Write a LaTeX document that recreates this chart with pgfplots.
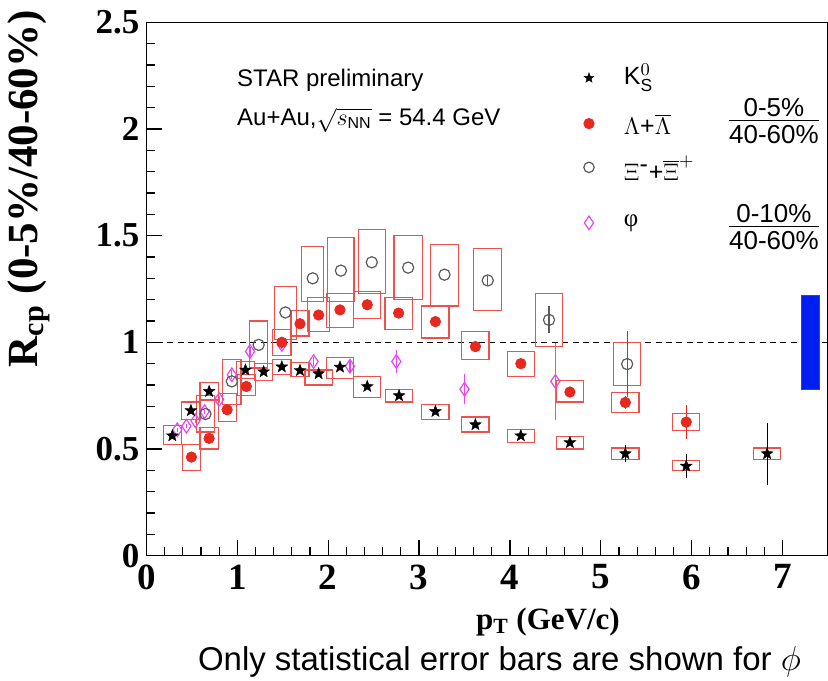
\documentclass[border=0pt]{standalone}
\usepackage{pgfplots}
\usepackage{pgfplotstable}
\pgfplotsset{compat=1.18}
\usetikzlibrary{calc}
\usepackage{fontspec}
\setmainfont{Liberation Sans}
\newfontfamily\tnr{Liberation Serif}

\definecolor{boxred}{RGB}{240,80,75}
\definecolor{dotred}{RGB}{230,40,30}
\definecolor{phicol}{RGB}{230,70,240}
\definecolor{xigray}{RGB}{90,90,90}
\definecolor{sysblue}{RGB}{0,30,240}

\pgfdeclareplotmark{fstar}{%
 \pgfpathmoveto{\pgfpointpolar{90}{\pgfplotmarksize}}%
 \pgfpathlineto{\pgfpointpolar{126}{0.42\pgfplotmarksize}}%
 \pgfpathlineto{\pgfpointpolar{162}{\pgfplotmarksize}}%
 \pgfpathlineto{\pgfpointpolar{198}{0.42\pgfplotmarksize}}%
 \pgfpathlineto{\pgfpointpolar{234}{\pgfplotmarksize}}%
 \pgfpathlineto{\pgfpointpolar{270}{0.42\pgfplotmarksize}}%
 \pgfpathlineto{\pgfpointpolar{306}{\pgfplotmarksize}}%
 \pgfpathlineto{\pgfpointpolar{342}{0.42\pgfplotmarksize}}%
 \pgfpathlineto{\pgfpointpolar{18}{\pgfplotmarksize}}%
 \pgfpathlineto{\pgfpointpolar{54}{0.42\pgfplotmarksize}}%
 \pgfpathclose
 \pgfusepathqfillstroke
}

\newcommand{\frc}[2]{{\def\arraystretch{0}\begin{tabular}{@{}c@{}}\rule[-1.8pt]{0pt}{0pt}#1\\\hline\rule{0pt}{11pt}#2\end{tabular}}}

% K0S: x y stat-error
\pgfplotstableread{
x y ey
0.285 0.562 0
0.49 0.68 0
0.69 0.77 0
1.09 0.87 0
1.29 0.862 0
1.49 0.885 0
1.69 0.868 0
1.895 0.853 0
2.13 0.884 0
2.43 0.793 0
2.78 0.75 0
3.18 0.676 0
3.62 0.614 0
4.12 0.562 0
4.66 0.53 0
5.27 0.478 0.04
5.94 0.42 0.055
6.83 0.478 0.145
}\kzero

% Lambda
\pgfplotstableread{
x y ey
0.495 0.462 0
0.69 0.55 0
0.888 0.684 0
1.10 0.793 0
1.49 1.00 0
1.69 1.087 0
1.895 1.128 0
2.13 1.152 0
2.43 1.176 0
2.775 1.137 0
3.18 1.097 0
3.62 0.98 0
4.12 0.90 0
4.66 0.767 0
5.27 0.718 0.03
5.94 0.626 0.08
}\lam

% Xi
\pgfplotstableread{
x y ey
0.65 0.664 0
0.94 0.817 0
1.235 0.988 0
1.53 1.14 0
1.83 1.30 0
2.14 1.336 0
2.48 1.375 0
2.88 1.35 0
3.28 1.317 0
3.756 1.29 0.02
4.43 1.105 0.063
5.29 0.898 0.155
}\xi

% phi
\pgfplotstableread{
x y ey
0.34 0.59 0.01
0.44 0.607 0.01
0.54 0.632 0.01
0.64 0.675 0.01
0.80 0.732 0.015
0.94 0.848 0.02
1.14 0.957 0.02
1.49 0.99 0.02
1.84 0.91 0.02
2.24 0.888 0.025
2.75 0.91 0.056
3.50 0.78 0.07
4.50 0.817 0.18
}\phitab

\begin{document}
\begin{tikzpicture}
\begin{axis}[name=ax, scale only axis, width=341pt, height=266.85pt,
  xmin=0, xmax=7.5, ymin=0, ymax=2.5,
  xtick={0,1,...,7}, ytick={0,0.5,...,2.5},
  minor x tick num=4, minor y tick num=4,
  tick align=inside, xtick pos=left, ytick pos=left,
  major tick length=8pt, minor tick length=4.5pt,
  axis line style={line width=0.7pt},
  every tick/.style={black, line width=0.6pt},
  /pgf/number format/assume math mode=true,
  xticklabel style={font=\tnr\bfseries\fontsize{18.5}{18.5}\selectfont, yshift=-1pt},
  yticklabel style={font=\tnr\bfseries\fontsize{17.5}{17.5}\selectfont},
  xlabel={p\textsubscript{T} (GeV/c)},
  xlabel style={font=\tnr\bfseries\fontsize{15.5}{15.5}\selectfont, at={(axis description cs:0.589,-0.124)}, anchor=center},
  ylabel={R\textsubscript{cp} (0-5\%/40-60\%)},
  ylabel style={font=\tnr\bfseries\fontsize{21.5}{21.5}\selectfont, at={(axis description cs:-0.172,0.688)}, anchor=center},
  clip=false,
  error bars/error mark=none,
  sb/.style={boxred, line width=0.6pt, forget plot},
]

% dashed unity line
\addplot[black, line width=0.6pt, dash pattern=on 3pt off 2.2pt, forget plot] coordinates {(0,1)(7.5,1)};

% systematic boxes: K0S
\addplot[sb] coordinates {(0.185,0.52)(0.385,0.52)(0.385,0.61)(0.185,0.61)} --cycle;
\addplot[sb] coordinates {(0.39,0.64)(0.59,0.64)(0.59,0.72)(0.39,0.72)} --cycle;
\addplot[sb] coordinates {(0.59,0.73)(0.79,0.73)(0.79,0.81)(0.59,0.81)} --cycle;
\addplot[sb] coordinates {(0.99,0.83)(1.19,0.83)(1.19,0.91)(0.99,0.91)} --cycle;
\addplot[sb] coordinates {(1.19,0.82)(1.39,0.82)(1.39,0.90)(1.19,0.90)} --cycle;
\addplot[sb] coordinates {(1.39,0.85)(1.59,0.85)(1.59,0.92)(1.39,0.92)} --cycle;
\addplot[sb] coordinates {(1.59,0.84)(1.79,0.84)(1.79,0.905)(1.59,0.905)} --cycle;
\addplot[sb] coordinates {(1.745,0.80)(2.045,0.80)(2.045,0.87)(1.745,0.87)} --cycle;
\addplot[sb] coordinates {(1.98,0.83)(2.28,0.83)(2.28,0.93)(1.98,0.93)} --cycle;
\addplot[sb] coordinates {(2.28,0.74)(2.58,0.74)(2.58,0.84)(2.28,0.84)} --cycle;
\addplot[sb] coordinates {(2.63,0.72)(2.93,0.72)(2.93,0.78)(2.63,0.78)} --cycle;
\addplot[sb] coordinates {(3.03,0.64)(3.33,0.64)(3.33,0.71)(3.03,0.71)} --cycle;
\addplot[sb] coordinates {(3.47,0.58)(3.77,0.58)(3.77,0.65)(3.47,0.65)} --cycle;
\addplot[sb] coordinates {(3.97,0.53)(4.27,0.53)(4.27,0.593)(3.97,0.593)} --cycle;
\addplot[sb] coordinates {(4.51,0.50)(4.81,0.50)(4.81,0.56)(4.51,0.56)} --cycle;
\addplot[sb] coordinates {(5.12,0.45)(5.42,0.45)(5.42,0.505)(5.12,0.505)} --cycle;
\addplot[sb] coordinates {(5.79,0.40)(6.09,0.40)(6.09,0.445)(5.79,0.445)} --cycle;
\addplot[sb] coordinates {(6.68,0.45)(6.98,0.45)(6.98,0.505)(6.68,0.505)} --cycle;

% systematic boxes: Lambda
\addplot[sb] coordinates {(0.395,0.40)(0.595,0.40)(0.595,0.52)(0.395,0.52)} --cycle;
\addplot[sb] coordinates {(0.59,0.50)(0.79,0.50)(0.79,0.60)(0.59,0.60)} --cycle;
\addplot[sb] coordinates {(0.79,0.63)(0.99,0.63)(0.99,0.76)(0.79,0.76)} --cycle;
\addplot[sb] coordinates {(1.00,0.75)(1.20,0.75)(1.20,0.85)(1.00,0.85)} --cycle;
\addplot[sb] coordinates {(1.39,0.94)(1.59,0.94)(1.59,1.06)(1.39,1.06)} --cycle;
\addplot[sb] coordinates {(1.59,1.03)(1.79,1.03)(1.79,1.15)(1.59,1.15)} --cycle;
\addplot[sb] coordinates {(1.775,1.05)(2.015,1.05)(2.015,1.21)(1.775,1.21)} --cycle;
\addplot[sb] coordinates {(1.985,1.07)(2.275,1.07)(2.275,1.23)(1.985,1.23)} --cycle;
\addplot[sb] coordinates {(2.28,1.11)(2.58,1.11)(2.58,1.24)(2.28,1.24)} --cycle;
\addplot[sb] coordinates {(2.625,1.06)(2.925,1.06)(2.925,1.21)(2.625,1.21)} --cycle;
\addplot[sb] coordinates {(3.03,1.02)(3.33,1.02)(3.33,1.17)(3.03,1.17)} --cycle;
\addplot[sb] coordinates {(3.47,0.92)(3.77,0.92)(3.77,1.05)(3.47,1.05)} --cycle;
\addplot[sb] coordinates {(3.97,0.84)(4.27,0.84)(4.27,0.957)(3.97,0.957)} --cycle;
\addplot[sb] coordinates {(4.51,0.72)(4.81,0.72)(4.81,0.82)(4.51,0.82)} --cycle;
\addplot[sb] coordinates {(5.12,0.67)(5.42,0.67)(5.42,0.765)(5.12,0.765)} --cycle;
\addplot[sb] coordinates {(5.79,0.587)(6.09,0.587)(6.09,0.668)(5.79,0.668)} --cycle;

% systematic boxes: Xi
\addplot[sb] coordinates {(0.55,0.58)(0.75,0.58)(0.75,0.75)(0.55,0.75)} --cycle;
\addplot[sb] coordinates {(0.84,0.71)(1.04,0.71)(1.04,0.92)(0.84,0.92)} --cycle;
\addplot[sb] coordinates {(1.135,0.88)(1.335,0.88)(1.335,1.10)(1.135,1.10)} --cycle;
\addplot[sb] coordinates {(1.41,1.015)(1.65,1.015)(1.65,1.26)(1.41,1.26)} --cycle;
\addplot[sb] coordinates {(1.71,1.19)(1.95,1.19)(1.95,1.45)(1.71,1.45)} --cycle;
\addplot[sb] coordinates {(1.995,1.19)(2.285,1.19)(2.285,1.49)(1.995,1.49)} --cycle;
\addplot[sb] coordinates {(2.33,1.23)(2.63,1.23)(2.63,1.53)(2.33,1.53)} --cycle;
\addplot[sb] coordinates {(2.725,1.20)(3.035,1.20)(3.035,1.50)(2.725,1.50)} --cycle;
\addplot[sb] coordinates {(3.125,1.17)(3.435,1.17)(3.435,1.46)(3.125,1.46)} --cycle;
\addplot[sb] coordinates {(3.60,1.15)(3.91,1.15)(3.91,1.44)(3.60,1.44)} --cycle;
\addplot[sb] coordinates {(4.28,0.98)(4.58,0.98)(4.58,1.23)(4.28,1.23)} --cycle;
\addplot[sb] coordinates {(5.14,0.797)(5.44,0.797)(5.44,1.00)(5.14,1.00)} --cycle;

% normalisation uncertainty band
\addplot[fill=sysblue, draw=black!70, line width=0.5pt, forget plot] coordinates {(7.21,0.78)(7.41,0.78)(7.41,1.22)(7.21,1.22)} --cycle;

% data points
\addplot[only marks, mark=diamond, mark size=3.4pt, phicol, mark options={line width=0.6pt, xscale=0.9},
  error bars/.cd, y dir=both, y explicit, error bar style={phicol, line width=0.6pt}]
  table[x=x, y=y, y error=ey] {\phitab};
\addplot[only marks, mark=o, mark size=2.8pt, xigray, mark options={line width=0.6pt},
  error bars/.cd, y dir=both, y explicit, error bar style={xigray, line width=0.6pt}]
  table[x=x, y=y, y error=ey] {\xi};
\addplot[only marks, mark=*, mark size=2.6pt, dotred, mark options={draw=dotred, fill=dotred},
  error bars/.cd, y dir=both, y explicit, error bar style={dotred, line width=0.6pt}]
  table[x=x, y=y, y error=ey] {\lam};
\addplot[only marks, mark=fstar, mark size=3.1pt, black, mark options={fill=black, line width=0.2pt},
  error bars/.cd, y dir=both, y explicit, error bar style={black, line width=0.6pt}]
  table[x=x, y=y, y error=ey] {\kzero};

% legend markers
\addplot[only marks, mark=fstar, mark size=2.6pt, black, mark options={fill=black, line width=0.2pt}] coordinates {(4.87,2.239)};
\addplot[only marks, mark=*, mark size=2.6pt, dotred] coordinates {(4.87,2.025)};
\addplot[only marks, mark=o, mark size=2.6pt, xigray, mark options={line width=0.6pt}] coordinates {(4.87,1.82)};
\addplot[only marks, mark=diamond, mark size=3.4pt, phicol, mark options={line width=0.6pt, xscale=0.9}] coordinates {(4.87,1.56)};

% legend / annotation text
\node[anchor=west, inner sep=0, font=\fontsize{12}{13}\selectfont] at (axis cs:0.995,2.23) {STAR preliminary};
\node[anchor=west, inner sep=0, font=\fontsize{12}{13}\selectfont] at (axis cs:0.995,2.04) {Au+Au,$\sqrt{s_{\mathrm{NN}}}$ = 54.4 GeV};
\node[anchor=west, inner sep=0, font=\fontsize{12.5}{13}\selectfont] at (axis cs:5.25,2.239) {$\mathrm{K}^{0}_{\mathrm{S}}$};
\node[anchor=west, inner sep=0, font=\fontsize{12.5}{13}\selectfont] at (axis cs:5.25,2.02) {$\Lambda$+$\overline{\Lambda}$};
\node[anchor=west, inner sep=0, font=\fontsize{12.5}{13}\selectfont] at (axis cs:5.25,1.815) {$\Xi^{\mbox{-}}$+$\overline{\Xi}^{+}$};
\node[anchor=west, inner sep=0, font=\fontsize{12.5}{13}\selectfont] at (axis cs:5.25,1.56) {{\tnr φ}};
\node[inner sep=0, font=\fontsize{13}{14}\selectfont] at (axis cs:6.905,2.037) {\frc{0-5\%}{40-60\%}};
\node[inner sep=0, font=\fontsize{13}{14}\selectfont] at (axis cs:6.905,1.541) {\frc{0-10\%}{40-60\%}};

\node[inner sep=0, font=\fontsize{16.5}{18}\selectfont] at (axis description cs:0.518,-0.1986) {Only statistical error bars are shown for $\phi$};
\end{axis}
\pgfresetboundingbox
\path[use as bounding box] ($(ax.south west)+(-73.25pt,-62.5pt)$) rectangle ($(ax.north east)+(0pt,11.15pt)$);
\end{tikzpicture}
\end{document}
